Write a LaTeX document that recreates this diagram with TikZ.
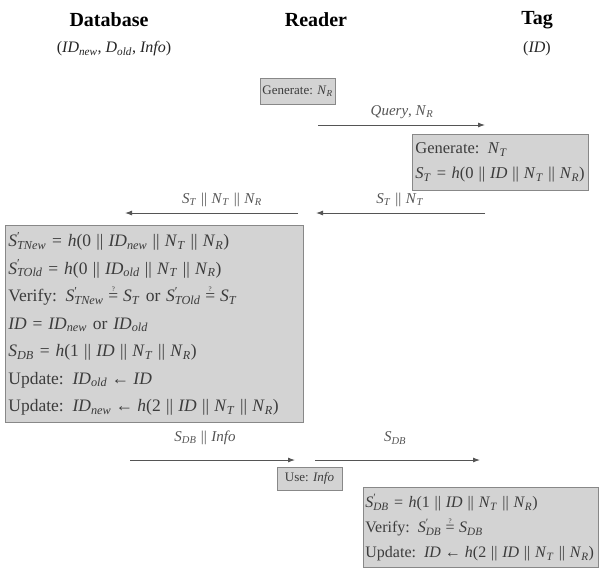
\documentclass[tikz,border=0pt]{standalone}
\usepackage{fontspec}
\setmainfont{Liberation Serif}
\usetikzlibrary{arrows.meta}
\definecolor{boxfill}{HTML}{D3D3D3}
\definecolor{boxline}{HTML}{888888}
\definecolor{ink}{HTML}{3C3C3C}
\definecolor{arr}{HTML}{555555}
\newcommand{\iv}[1]{\textit{#1}}
\newcommand{\sbx}[2]{\textit{#1}\textsubscript{\textit{#2}}}
\newcommand{\psx}[2]{\textit{#1}\rlap{\textsuperscript{′}}\textsubscript{\textit{#2}}}
\newcommand{\cc}{\hspace{0.3em}\textbar\textbar\hspace{0.3em}}
\newcommand{\la}{\hspace{0.25em}←\hspace{0.25em}}
\newcommand{\qeq}{\ensuremath{\stackrel{\mbox{\fontsize{7}{7}\selectfont ?}}{\mbox{=}}}}
\begin{document}
\begin{tikzpicture}[x=1pt,y=-1pt,
  title/.style={font=\fontsize{20}{22}\selectfont\bfseries, text=black},
  subt/.style={font=\fontsize{16}{18}\selectfont, text=black!85},
  graybox/.style={draw=boxline, fill=boxfill, line width=0.8pt, inner sep=4pt, text=ink, align=left},
  msg/.style={draw=arr, line width=0.9pt, -{Latex[length=7pt,width=5pt]}},
  lbl/.style={text=arr, font=\fontsize{15}{17}\selectfont}]
\useasboundingbox (0,0) rectangle (604,571);
\fill[white] (0,0) rectangle (604,571);

\node[title] (db) at (109,20) {Database};
\node[title] (rd) at (316,20) {Reader};
\node[title] (tg) at (537,20) {Tag};
\node[subt] (dbv) at (114,49) {(\sbx{ID}{new}, \sbx{D}{old}, \iv{Info})};
\node[subt] (tgv) at (537,49) {(\iv{ID})};

\node[graybox, minimum width=69, minimum height=26, inner sep=2.5pt, font=\fontsize{13}{15}\selectfont] (gnr) at (297.5,91) {Generate: \sbx{N}{R}};

\coordinate (q1) at (318,125); \coordinate (q2) at (485,125);
\draw[msg] (q1) -- (q2);
\node[lbl] (ql) at (402,112) {\iv{Query}, \sbx{N}{R}};

\node[graybox, anchor=north west, minimum width=176, minimum height=56, text width=170, inner sep=3pt,
  font=\fontsize{16.5}{25}\selectfont] (tbox) at (412,134)
  {Generate: \sbx{N}{T}\\ \sbx{S}{T} = \iv{h}(0\cc\iv{ID}\cc\sbx{N}{T}\cc\sbx{N}{R})};

\coordinate (r1) at (485,213); \coordinate (r2) at (316,213);
\draw[msg] (r1) -- (r2);
\node[lbl] (rl) at (400,200) {\sbx{S}{T}\cc\sbx{N}{T}};

\coordinate (l1) at (298,213); \coordinate (l2) at (125,213);
\draw[msg] (l1) -- (l2);
\node[lbl] (ll) at (222,200) {\sbx{S}{T}\cc\sbx{N}{T}\cc\sbx{N}{R}};

\node[graybox, anchor=north west, minimum width=298, minimum height=197, text width=292, inner sep=3pt,
  font=\fontsize{17.5}{27.5}\selectfont] (dbox) at (5,225)
  {\psx{S}{TNew} = \iv{h}(0\cc\sbx{ID}{new}\cc\sbx{N}{T}\cc\sbx{N}{R})\\
   \psx{S}{TOld} = \iv{h}(0\cc\sbx{ID}{old}\cc\sbx{N}{T}\cc\sbx{N}{R})\\
   Verify: \psx{S}{TNew}\;\qeq\;\sbx{S}{T} or \psx{S}{TOld}\;\qeq\;\sbx{S}{T}\\
   \iv{ID} = \sbx{ID}{new} or \sbx{ID}{old}\\
   \sbx{S}{DB} = \iv{h}(1\cc\iv{ID}\cc\sbx{N}{T}\cc\sbx{N}{R})\\
   Update: \sbx{ID}{old}\la\iv{ID}\\
   Update: \sbx{ID}{new}\la\iv{h}(2\cc\iv{ID}\cc\sbx{N}{T}\cc\sbx{N}{R})};

\coordinate (i1) at (130,460); \coordinate (i2) at (295,460);
\draw[msg] (i1) -- (i2);
\node[lbl] (il) at (205,438) {\sbx{S}{DB}\cc\iv{Info}};

\coordinate (s1) at (315,460); \coordinate (s2) at (480,460);
\draw[msg] (s1) -- (s2);
\node[lbl] (sl) at (395,438) {\sbx{S}{DB}};

\node[graybox, font=\fontsize{13}{15}\selectfont, minimum width=65, minimum height=23, inner sep=2.5pt] (use) at (309.5,478.5) {Use: \iv{Info}};

\node[graybox, anchor=north west, minimum width=235, minimum height=80, text width=231, inner sep=2pt,
  font=\fontsize{16}{25}\selectfont] (vbox) at (363,487)
  {\psx{S}{DB} = \iv{h}(1\cc\iv{ID}\cc\sbx{N}{T}\cc\sbx{N}{R})\\
   Verify: \psx{S}{DB}\;\qeq\;\sbx{S}{DB}\\
   Update: \iv{ID}\la\iv{h}(2\cc\iv{ID}\cc\sbx{N}{T}\cc\sbx{N}{R})};
\end{tikzpicture}
\end{document}
